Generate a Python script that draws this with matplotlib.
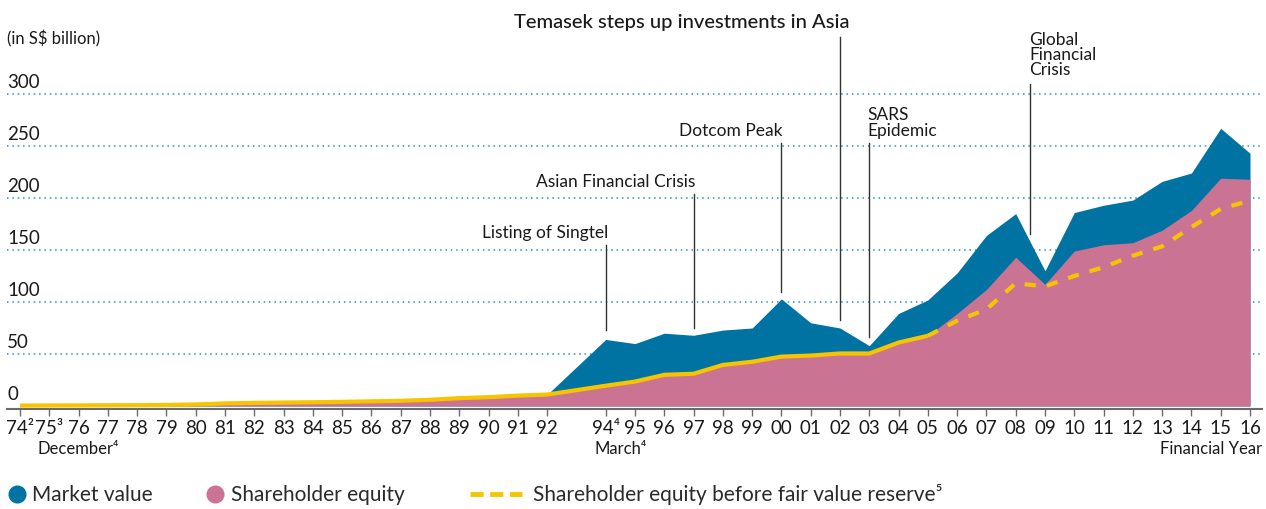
import numpy as np
import matplotlib
matplotlib.use("Agg")
from matplotlib import pyplot as plt
from matplotlib.lines import Line2D
from matplotlib.transforms import blended_transform_factory

plt.rcParams['font.family'] = ['Lato', 'DejaVu Sans']

# financial years (93 has no data: switch from December to March year end)
year_labels = ['74²', '75³', '76', '77', '78', '79', '80', '81', '82', '83', '84', '85', '86',
               '87', '88', '89', '90', '91', '92',
               '94⁴', '95', '96', '97', '98', '99', '00', '01', '02', '03', '04', '05',
               '06', '07', '08', '09', '10', '11', '12', '13', '14', '15', '16']
x = np.array(list(range(19)) + list(range(20, 43)))

market_value = [0.4, 0.5, 0.6, 0.7, 0.8, 1.0, 1.5, 2.5, 3.0, 3.3, 3.6, 4.0, 5.5,
                6.0, 7.5, 9.5, 9.0, 10.5, 11.0,
                64, 60, 70, 68, 73, 75, 103, 80, 75, 58, 89, 102,
                128, 164, 185, 130, 186, 193, 198, 216, 224, 267, 243]
shareholder_equity = [0.4, 0.5, 0.6, 0.7, 0.8, 1.0, 1.5, 2.5, 3.0, 3.3, 3.6, 4.0, 4.5,
                      5.0, 6.0, 7.5, 8.5, 10.0, 11.0,
                      19.5, 23.5, 30, 31, 39.5, 42.5, 47.5, 48.5, 50.5, 50.5, 61, 67.5,
                      89, 112, 143, 117, 149, 155, 157, 169, 188, 219, 218]
# before fair value reserve, from FY05 onwards (equal to equity before)
fvr_years_idx = x[30:]
equity_before_fvr = [67.5, 82, 93, 118, 115, 125, 133.5, 144.5, 153.5, 172, 189.5, 197.5]

BLUE = '#0073a3'
PINK = '#cb7392'
YELLOW = '#f6c500'
TXT = '#1a1a1a'

fig = plt.figure(figsize=(12.66, 5.10), dpi=100)
W, H = 1266, 510
ax = fig.add_axes([7 / W, (H - 410) / H, 1255 / W, 380 / H])

px_x = 1230 / 42.0
px_y = 1.04
ax.set_xlim(-13 / px_x, 42 + 12 / px_x)
ax.set_ylim(-3 / px_y, (407 - 30) / px_y)

ax.fill_between(x, 0, market_value, color=BLUE, lw=0, zorder=2)
ax.fill_between(x, 0, shareholder_equity, color=PINK, lw=0, zorder=3)
ax.plot(x[:31], shareholder_equity[:31], color=YELLOW, lw=3, solid_capstyle='butt',
        solid_joinstyle='round', zorder=4)
ax.plot(fvr_years_idx, equity_before_fvr, color=YELLOW, lw=3, ls=(0, (2.7, 2.7)),
        dash_capstyle='butt', zorder=4)

# grid
for v in [50, 100, 150, 200, 250, 300]:
    ax.axhline(v, color='#2a8fbf', lw=1.1, ls=(0, (1, 2.5)), zorder=1)
trans = blended_transform_factory(ax.transAxes, ax.transData)
for v in [0, 50, 100, 150, 200, 250, 300]:
    ax.text(0, v + 4 / px_y, str(v), transform=trans, ha='left', va='bottom',
            fontsize=13.5, color=TXT)
ax.text(0, 1.0, '(in S$ billion)', transform=ax.transAxes, ha='left', va='top',
        fontsize=12, color=TXT)

for s in ['top', 'right', 'left']:
    ax.spines[s].set_visible(False)
ax.spines['bottom'].set_color('#6b6b6b')
ax.spines['bottom'].set_linewidth(1.5)
ax.set_yticks([])
ax.set_xticks(x)
ax.set_xticklabels(year_labels, fontsize=13.5, color=TXT)
ax.tick_params(axis='x', length=5, width=1, color='#6b6b6b', pad=2)

# x sub-labels
xt = blended_transform_factory(ax.transData, ax.transAxes)
ax.text(0.6, -0.082, 'December⁴', transform=xt, ha='left', va='top', fontsize=12, color=TXT)
ax.text(19.6, -0.082, 'March⁴', transform=xt, ha='left', va='top', fontsize=12, color=TXT)
ax.text(1.0, -0.082, 'Financial Year', transform=ax.transAxes,
        ha='right', va='top', fontsize=12, color=TXT)


# event annotations
def event(xi, y_top, y_bot, label, tx, ty, ha='left', fs=12.5, weight='normal'):
    ax.plot([xi, xi], [y_top, y_bot], color='#333333', lw=1, zorder=5, clip_on=False)
    ax.text(tx, ty, label, ha=ha, va='bottom', fontsize=fs, color=TXT,
            fontweight=weight, linespacing=0.95, clip_on=False)


event(20, 155, 73, 'Listing of Singtel', 20.1, 160, ha='right')
event(23, 204, 75, 'Asian Financial Crisis', 23.05, 209, ha='right')
event(26, 253, 110, 'Dotcom Peak', 26.05, 258, ha='right')
event(28, 355, 83, 'Temasek steps up investments in Asia', 22.6, 362, ha='center',
      fs=14.5, weight='medium')
event(29, 253, 66, 'SARS\nEpidemic', 28.95, 258)
event(34.5, 310, 165, 'Global\nFinancial\nCrisis', 34.45, 316)

# legend
ly = 1 - 495 / H
fig.add_artist(Line2D([17 / W], [ly], marker='o', ms=12, color=BLUE, lw=0))
fig.text(32 / W, ly, 'Market value', ha='left', va='center', fontsize=15, color='#2a2a2a')
fig.add_artist(Line2D([215 / W], [ly], marker='o', ms=12, color=PINK, lw=0))
fig.text(231 / W, ly, 'Shareholder equity', ha='left', va='center', fontsize=15,
         color='#2a2a2a')
fig.add_artist(Line2D([470 / W, 522 / W], [ly, ly], color=YELLOW, lw=3.5,
                      ls=(0, (2.7, 1.35)), dash_capstyle='butt'))
fig.text(533 / W, ly, 'Shareholder equity before fair value reserve⁵', ha='left',
         va='center', fontsize=15, color='#2a2a2a')

fig.savefig('out.png', dpi=100)
